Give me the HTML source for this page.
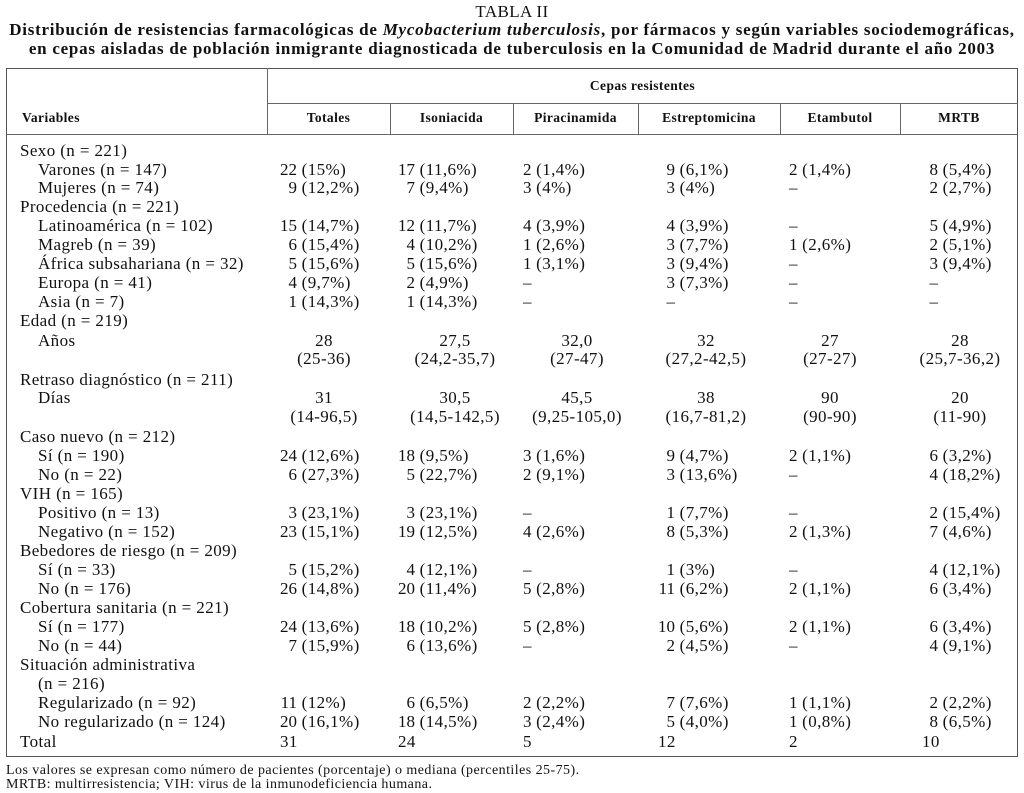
<!DOCTYPE html>
<html><head><meta charset="utf-8"><style>
body{margin:0;background:#fff;width:1024px;height:793px;position:relative;overflow:hidden;font-family:"Liberation Serif",serif;color:#111}
.a{position:absolute;white-space:nowrap;line-height:20px}
.t{font-size:17px;letter-spacing:0.4px}
.h{font-size:13.5px;font-weight:bold;letter-spacing:0.4px}
.line{position:absolute;background:#666}
.ttl{letter-spacing:0.75px}
.fn{font-size:14px;line-height:15px;letter-spacing:0.45px}
</style></head><body>
<div class="a t" style="left:0;width:1024px;text-align:center;top:2px">TABLA II</div>
<div class="a t ttl" style="left:0;width:1024px;text-align:center;top:20px;font-weight:bold">Distribución de resistencias farmacológicas de <i>Mycobacterium tuberculosis</i>, por fármacos y según variables sociodemográficas,</div>
<div class="a t ttl" style="left:0;width:1024px;text-align:center;top:39px;font-weight:bold">en cepas aisladas de población inmigrante diagnosticada de tuberculosis en la Comunidad de Madrid durante el año 2003</div>

<div class="line" style="left:6px;top:68px;width:1012px;height:689px;background:none;border:1px solid #555;box-sizing:border-box"></div>
<div class="line" style="left:267px;top:68px;width:1px;height:66px"></div>
<div class="line" style="left:267px;top:103px;width:751px;height:1px"></div>
<div class="line" style="left:6px;top:134px;width:1012px;height:1px"></div>

<div class="a h" style="left:267px;width:751px;text-align:center;top:76px">Cepas resistentes</div>
<div class="a h" style="left:22px;top:108px">Variables</div>
<div id="hdr"></div>
<div id="body"></div>

<div class="a fn" style="left:6px;top:763px">Los valores se expresan como número de pacientes (porcentaje) o mediana (percentiles 25-75).</div>
<div class="a fn" style="left:6px;top:777px">MRTB: multirresistencia; VIH: virus de la inmunodeficiencia humana.</div>

<script>
const colNames=["Totales","Isoniacida","Piracinamida","Estreptomicina","Etambutol","MRTB"];
const colEdges=[267,390,513,638,780,900,1018];
const numRight=[297,415,531.5,675,797.5,938];
const totLeft=[280,398,523,658,789,922];
const medCenter=[324,455,577,706,830,960];
const rows=[
[151,0,"Sexo (n = 221)"],
[170,1,"Varones (n = 147)","22 (15%)","17 (11,6%)","2 (1,4%)","9 (6,1%)","2 (1,4%)","8 (5,4%)"],
[188,1,"Mujeres (n = 74)","9 (12,2%)","7 (9,4%)","3 (4%)","3 (4%)","–","2 (2,7%)"],
[207,0,"Procedencia (n = 221)"],
[226,1,"Latinoamérica (n = 102)","15 (14,7%)","12 (11,7%)","4 (3,9%)","4 (3,9%)","–","5 (4,9%)"],
[245,1,"Magreb (n = 39)","6 (15,4%)","4 (10,2%)","1 (2,6%)","3 (7,7%)","1 (2,6%)","2 (5,1%)"],
[264,1,"África subsahariana (n = 32)","5 (15,6%)","5 (15,6%)","1 (3,1%)","3 (9,4%)","–","3 (9,4%)"],
[283,1,"Europa (n = 41)","4 (9,7%)","2 (4,9%)","–","3 (7,3%)","–","–"],
[302,1,"Asia (n = 7)","1 (14,3%)","1 (14,3%)","–","–","–","–"],
[321,0,"Edad (n = 219)"],
[341,2,"Años","28","27,5","32,0","32","27","28"],
[359,2,"","(25-36)","(24,2-35,7)","(27-47)","(27,2-42,5)","(27-27)","(25,7-36,2)"],
[380,0,"Retraso diagnóstico (n = 211)"],
[398,2,"Días","31","30,5","45,5","38","90","20"],
[417,2,"","(14-96,5)","(14,5-142,5)","(9,25-105,0)","(16,7-81,2)","(90-90)","(11-90)"],
[437,0,"Caso nuevo (n = 212)"],
[456,1,"Sí (n = 190)","24 (12,6%)","18 (9,5%)","3 (1,6%)","9 (4,7%)","2 (1,1%)","6 (3,2%)"],
[475,1,"No (n = 22)","6 (27,3%)","5 (22,7%)","2 (9,1%)","3 (13,6%)","–","4 (18,2%)"],
[494,0,"VIH (n = 165)"],
[513,1,"Positivo (n = 13)","3 (23,1%)","3 (23,1%)","–","1 (7,7%)","–","2 (15,4%)"],
[532,1,"Negativo (n = 152)","23 (15,1%)","19 (12,5%)","4 (2,6%)","8 (5,3%)","2 (1,3%)","7 (4,6%)"],
[551,0,"Bebedores de riesgo (n = 209)"],
[570,1,"Sí (n = 33)","5 (15,2%)","4 (12,1%)","–","1 (3%)","–","4 (12,1%)"],
[589,1,"No (n = 176)","26 (14,8%)","20 (11,4%)","5 (2,8%)","11 (6,2%)","2 (1,1%)","6 (3,4%)"],
[608,0,"Cobertura sanitaria (n = 221)"],
[627,1,"Sí (n = 177)","24 (13,6%)","18 (10,2%)","5 (2,8%)","10 (5,6%)","2 (1,1%)","6 (3,4%)"],
[646,1,"No (n = 44)","7 (15,9%)","6 (13,6%)","–","2 (4,5%)","–","4 (9,1%)"],
[665,0,"Situación administrativa"],
[684,1,"(n = 216)"],
[703,1,"Regularizado (n = 92)","11 (12%)","6 (6,5%)","2 (2,2%)","7 (7,6%)","1 (1,1%)","2 (2,2%)"],
[722,1,"No regularizado (n = 124)","20 (16,1%)","18 (14,5%)","3 (2,4%)","5 (4,0%)","1 (0,8%)","8 (6,5%)"],
[742,3,"Total","31","24","5","12","2","10"]
];
const hdr=document.getElementById('hdr');
colNames.forEach((n,i)=>{
  const d=document.createElement('div');
  d.className='a h';
  
  
  d.style.left=colEdges[i]+'px';d.style.width=(colEdges[i+1]-colEdges[i])+'px';
  d.style.textAlign='center';d.style.top='108px';d.textContent=n;hdr.appendChild(d);
  if(i>0){const l=document.createElement('div');l.className='line';
    
    
    l.style.left=colEdges[i]+'px';l.style.top='103px';l.style.width='1px';l.style.height='31px';hdr.appendChild(l);}
});
const body=document.getElementById('body');
function mk(txt,left,top,name){const d=document.createElement('div');d.className='a t';
  
  
  d.style.left=left+'px';d.style.top=top+'px';d.textContent=txt;body.appendChild(d);return d;}
rows.forEach(r=>{
  const y=r[0]-10,type=r[1];
  if(r[2])mk(r[2],(type===1||type===2)?38:20,y,'row-label');
  for(let i=0;i<6;i++){
    const v=r[3+i];if(v===undefined)continue;
    if(type===1){
      const sp=v.indexOf(' ');const num=sp<0?v:v.slice(0,sp);const rest=sp<0?'':v.slice(sp);
      const n=mk(num,numRight[i]-60,y,'cell-count');n.style.width='60px';n.style.textAlign='right';n.style.letterSpacing='0px';
      if(rest){const p=mk(rest,numRight[i],y,'cell-percent');p.style.whiteSpace='pre';}
    }else if(type===2){
      const d=mk(v,medCenter[i]-70,y,'cell-median');d.style.width='140px';d.style.textAlign='center';
    }else if(type===3){mk(v,totLeft[i],y,'cell-total');}
  }
});
</script>
</body></html>
